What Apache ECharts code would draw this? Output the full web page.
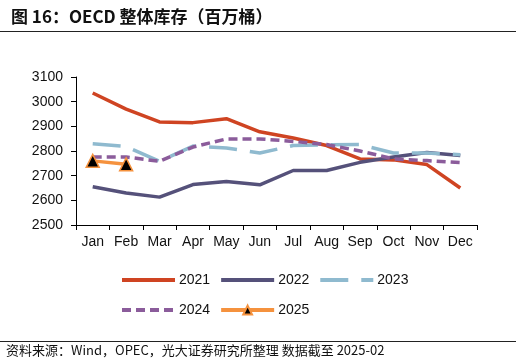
<!DOCTYPE html>
<html><head><meta charset="utf-8">
<script src="https://cdn.jsdelivr.net/npm/echarts@6/dist/echarts.min.js"></script>
<style>html,body{margin:0;padding:0;background:#fff}#c{width:516px;height:364px}</style>
</head><body><div id="c"></div>
<script>
const months = ['Jan','Feb','Mar','Apr','May','Jun','Jul','Aug','Sep','Oct','Nov','Dec'];
const s2021 = [3035, 2970, 2918, 2915, 2931, 2878, 2853, 2822, 2768, 2764, 2745, 2650];
const s2022 = [2655, 2630, 2613, 2664, 2676, 2663, 2721, 2721, 2754, 2776, 2794, 2782];
const s2023 = [2829, 2818, 2758, 2820, 2812, 2792, 2822, 2825, 2826, 2792, 2792, 2785];
const s2024 = [2776, 2776, 2758, 2816, 2849, 2849, 2839, 2826, 2800, 2768, 2761, 2753];
const s2025 = [2760, 2746];
const yTicks = [2500, 2600, 2700, 2800, 2900, 3000, 3100];

const font = '"Liberation Sans", Arial, sans-serif';
const chart = echarts.init(document.getElementById('c'));
const lineSeries = (name, data, color, width, type, extra) => Object.assign({
  name, type: 'line', data, smooth: false, symbol: 'none', animation: false,
  lineStyle: { color, width, type, cap: 'butt' }, itemStyle: { color }
}, extra || {});
const hideSym = { opacity: 0 };
const legText = { fontFamily: font, fontSize: 14, color: '#111', padding: [0, 0, 0, -1] };

chart.setOption({
  animation: false,
  title: {
    text: '图 16：OECD 整体库存（百万桶）', left: 6, top: 3,
    textStyle: { fontFamily: '"Noto Sans CJK SC", sans-serif', fontSize: 17, fontWeight: 'bold', color: '#111' }
  },
  graphic: [
    { type: 'line', shape: { x1: 0, y1: 31.5, x2: 516, y2: 31.5 }, style: { stroke: '#222', lineWidth: 1.2 } },
    { type: 'line', shape: { x1: 0, y1: 341.5, x2: 516, y2: 341.5 }, style: { stroke: '#222', lineWidth: 1.2 } },
    { type: 'text', left: 6, top: 344, style: { text: '资料来源：Wind，OPEC，光大证券研究所整理 数据截至 2025-02', font: '13px "Noto Sans CJK SC", sans-serif', fill: '#111' } }
  ],
  grid: { left: 76, right: 39, top: 77, bottom: 139 },
  legend: [
    { data: [{ name: '2021', itemStyle: hideSym }, { name: '2022', itemStyle: hideSym }, { name: '2023', itemStyle: hideSym }],
      left: 115, top: 268, itemWidth: 53, itemHeight: 14, itemGap: 9, lineStyle: { width: 4 }, textStyle: legText },
    { data: [{ name: '2024', itemStyle: hideSym }, { name: '2025' }],
      left: 115, top: 298, itemWidth: 53, itemHeight: 11, itemGap: 9, lineStyle: { width: 4 }, textStyle: legText }
  ],
  xAxis: {
    type: 'category', data: months, boundaryGap: true,
    axisLine: { lineStyle: { color: '#000', width: 1 } },
    axisTick: { show: true, length: 5, inside: false, lineStyle: { color: '#000' } },
    axisLabel: { fontFamily: font, fontSize: 14, color: '#111', margin: 10, interval: 0 }
  },
  yAxis: {
    type: 'value', min: yTicks[0], max: yTicks[yTicks.length - 1], interval: 100,
    axisLine: { show: true, lineStyle: { color: '#000', width: 1 } },
    axisTick: { show: true, length: 5, lineStyle: { color: '#000' } },
    splitLine: { show: false },
    axisLabel: { fontFamily: font, fontSize: 14, color: '#111', margin: 13, formatter: v => String(v) }
  },
  series: [
    lineSeries('2021', s2021, '#CF4422', 3.5, 'solid'),
    lineSeries('2022', s2022, '#55517A', 3.5, 'solid'),
    lineSeries('2023', s2023, '#8FBACF', 3.5, [28, 13]),
    lineSeries('2024', s2024, '#8B5C9B', 3.5, [9, 5]),
    lineSeries('2025', s2025, '#F5923E', 3.5, 'solid', {
      symbol: 'triangle', symbolSize: 13,
      itemStyle: { color: '#000', borderColor: '#F5923E', borderWidth: 1.5 }
    })
  ]
});
</script></body></html>
